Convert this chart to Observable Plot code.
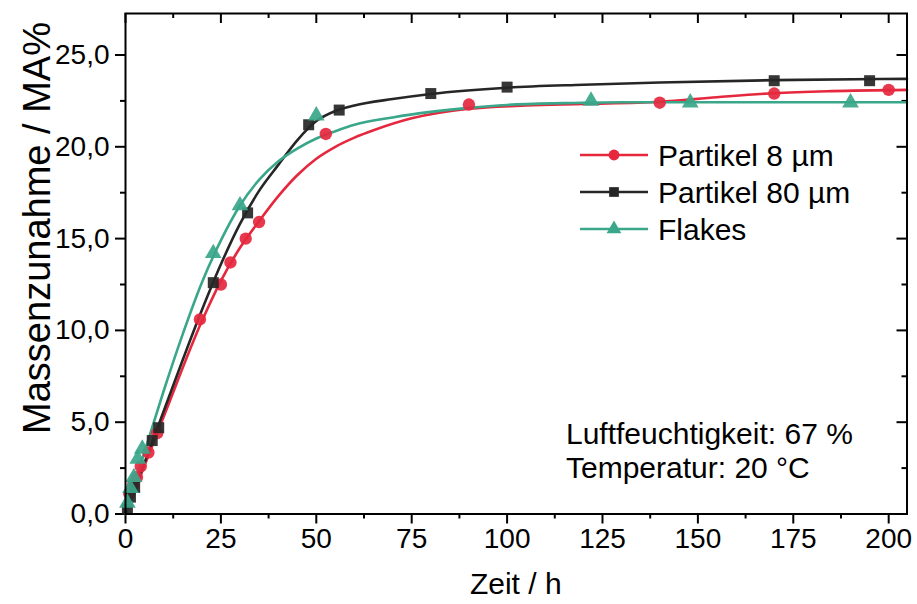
<!DOCTYPE html>
<html>
<head>
<meta charset="utf-8">
<script src="https://cdn.jsdelivr.net/npm/d3@7"></script>
<script src="https://cdn.jsdelivr.net/npm/@observablehq/plot@0.6"></script>
<style>
  body { margin: 0; background: #fff; }
  #chart { width: 917px; height: 604px; }
  #chart svg { display: block; }
</style>
</head>
<body>
<div id="chart"></div>
<script>
// Measured mass gain (MA%) over time (h)
const p8Time  = [1, 2, 3, 4, 6, 8.3, 19.5, 25, 27.5, 31.5, 35, 52.5, 90, 140, 170, 200];
const p8Mass  = [1.1, 1.6, 2.0, 2.6, 3.35, 4.4, 10.6, 12.5, 13.7, 15.0, 15.9, 20.7, 22.3, 22.4, 22.9, 23.1];

const p80Time = [0.5, 1.3, 2.4, 7, 8.7, 23, 32, 48, 56, 80, 100, 170, 195];
const p80Mass = [0.28, 0.92, 1.45, 4.0, 4.7, 12.6, 16.4, 21.2, 22.0, 22.9, 23.25, 23.6, 23.6];

const flTime  = [0.5, 1.3, 2.2, 3.2, 4.4, 23, 30, 50, 122, 148, 190];
const flMass  = [0.6, 1.4, 2.0, 3.0, 3.55, 14.2, 16.8, 21.7, 22.5, 22.4, 22.4];

// Fitted trend curves, sampled along each curve
const p8FitTime  = [0, 10, 20, 25, 30, 35, 40, 45, 50, 55, 60, 65, 75, 90, 105, 120, 140, 155, 170, 185, 204.8];
const p8FitMass  = [0, 5.3, 10.5, 12.7, 14.5, 15.95, 17.3, 18.45, 19.35, 20.0, 20.5, 20.9, 21.55, 22.07, 22.25, 22.33, 22.45, 22.7, 22.92, 23.03, 23.1];

const p80FitTime = [0, 10, 20, 25, 30, 35, 40, 45, 50, 55, 60, 70, 80, 100, 120, 140, 170, 204.8];
const p80FitMass = [0, 5.6, 11.1, 13.6, 15.8, 17.6, 19.0, 20.35, 21.4, 21.95, 22.25, 22.6, 22.88, 23.22, 23.38, 23.5, 23.63, 23.7];

const flFitTime  = [0, 5, 10, 15, 20, 25, 30, 35, 40, 45, 50, 55, 60, 70, 80, 90, 100, 115, 130, 204.8];
const flFitMass  = [0, 3.4, 6.7, 9.8, 12.6, 14.9, 16.8, 18.2, 19.2, 19.9, 20.45, 20.85, 21.2, 21.6, 21.9, 22.12, 22.28, 22.38, 22.43, 22.43];

const seriesNames = ["Partikel 8 µm", "Partikel 80 µm", "Flakes"];
const seriesColors = ["#e5283e", "#262626", "#3aa68a"];
const seriesSymbols = ["circle", "square", "triangle"];

const xMajor = [0, 25, 50, 75, 100, 125, 150, 175, 200];
const xMinor = [12.5, 37.5, 62.5, 87.5, 112.5, 137.5, 162.5, 187.5];
const yMajor = [0, 5, 10, 15, 20, 25];
const yMinor = [2.5, 7.5, 12.5, 17.5, 22.5];

const xTitle = "Zeit / h";
const yTitle = "Massenzunahme / MA%";
const noteLines = ["Luftfeuchtigkeit: 67 %", "Temperatur: 20 °C"];

// ---- layout ----
const W = 917, H = 604;
const mL = 125, mR = 10.5, mT = 13, mB = 90.5;
const innerW = W - mL - mR, innerH = H - mT - mB;
const FONT = "'Liberation Sans', Arial, sans-serif";

const rows = (t, v) => t.map((d, i) => ({t: d, v: v[i]}));
const measured = [rows(p8Time, p8Mass), rows(p80Time, p80Mass), rows(flTime, flMass)];
const fitted = [rows(p8FitTime, p8FitMass), rows(p80FitTime, p80FitMass), rows(flFitTime, flFitMass)];

const comma = d => d.toFixed(1).replace(".", ",");

const marks = [];
fitted.forEach((data, i) => {
  marks.push(Plot.line(data, {x: "t", y: "v", stroke: seriesColors[i], strokeWidth: 2.6, curve: "monotone-x"}));
});
measured.forEach((data, i) => {
  marks.push(Plot.dot(data, {x: "t", y: "v", symbol: () => seriesSymbols[i], fill: seriesColors[i], r: 6.2, fillOpacity: 0.92}));
});

const chart = Plot.plot({
  width: W, height: H,
  marginLeft: mL, marginRight: mR, marginTop: mT, marginBottom: mB,
  style: {fontFamily: FONT, fontSize: "28px", color: "#000", background: "#fff"},
  x: {domain: [0, 204.8]},
  y: {domain: [0, 27.26]},
  symbol: {type: "identity"},
  marks: [
    Plot.axisX(xMajor, {tickSize: 10, tickPadding: 4, strokeWidth: 2, tickFormat: d => String(d), label: null, fontSize: 28}),
    Plot.axisX(xMinor, {tickSize: 5, strokeWidth: 2, tickFormat: () => "", label: null}),
    Plot.axisY(yMajor, {tickSize: 10, tickPadding: 6, strokeWidth: 2, tickFormat: comma, label: null, fontSize: 28}),
    Plot.axisY(yMinor, {tickSize: 5, strokeWidth: 2, tickFormat: () => "", label: null}),
    // inward ticks on the top and right edges
    Plot.tickX(xMajor, {x: d => d, insetBottom: innerH - 10, strokeWidth: 2}),
    Plot.tickX(xMinor, {x: d => d, insetBottom: innerH - 5, strokeWidth: 2}),
    Plot.tickY(yMajor, {y: d => d, insetLeft: innerW - 10, strokeWidth: 2}),
    Plot.tickY(yMinor, {y: d => d, insetLeft: innerW - 5, strokeWidth: 2}),
    ...marks,
    Plot.frame({stroke: "#000", strokeWidth: 2})
  ]
});

document.getElementById("chart").append(chart);

// ---- titles, legend and note ----
const svg = d3.select(chart);

svg.append("text")
  .attr("x", mL + innerW / 2).attr("y", 594)
  .attr("text-anchor", "middle")
  .attr("font-family", FONT).attr("font-size", 30)
  .text(xTitle);

svg.append("text")
  .attr("transform", `translate(50,228) rotate(-90)`)
  .attr("text-anchor", "middle")
  .attr("font-family", FONT).attr("font-size", 38)
  .text(yTitle);

const symbolType = {circle: d3.symbolCircle, square: d3.symbolSquare, triangle: d3.symbolTriangle};
const legend = svg.append("g").attr("font-family", FONT).attr("font-size", 30).attr("text-anchor", "start");
const legendY = [155, 192, 229];
seriesNames.forEach((name, i) => {
  const g = legend.append("g").attr("transform", `translate(580,${legendY[i]})`);
  g.append("line").attr("x1", 0).attr("x2", 68).attr("y1", 0).attr("y2", 0)
    .attr("stroke", seriesColors[i]).attr("stroke-width", 2.6);
  g.append("path")
    .attr("transform", "translate(34,0)")
    .attr("d", d3.symbol(symbolType[seriesSymbols[i]], Math.PI * 30)())
    .attr("fill", seriesColors[i]);
  g.append("text").attr("x", 78).attr("y", 0).attr("dy", "0.35em").text(name);
});

const note = svg.append("g").attr("font-family", FONT).attr("font-size", 30).attr("text-anchor", "start");
noteLines.forEach((line, i) => {
  note.append("text").attr("x", 566).attr("y", 433 + i * 34).attr("dy", "0.35em").text(line);
});
</script>
</body>
</html>
